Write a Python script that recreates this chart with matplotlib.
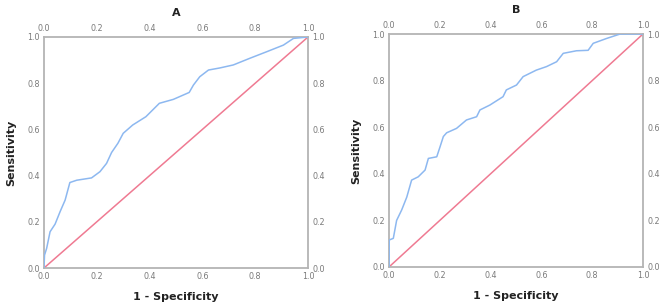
import matplotlib
matplotlib.use("Agg")
import matplotlib.pyplot as plt

# Panel A ROC curve (1 - specificity, sensitivity)
fpr_a = [0.0, 0.002, 0.01, 0.023, 0.042, 0.061, 0.08, 0.098, 0.124, 0.18, 0.212,
         0.237, 0.256, 0.28, 0.30, 0.336, 0.386, 0.437, 0.49, 0.528, 0.55, 0.566,
         0.59, 0.623, 0.666, 0.717, 0.78, 0.843, 0.907, 0.945, 1.0]
tpr_a = [0.0, 0.056, 0.085, 0.157, 0.19, 0.244, 0.294, 0.37, 0.38, 0.39, 0.417,
         0.453, 0.50, 0.54, 0.583, 0.619, 0.655, 0.713, 0.73, 0.749, 0.76, 0.792,
         0.828, 0.857, 0.866, 0.879, 0.908, 0.936, 0.965, 0.994, 1.0]

# Panel B ROC curve
fpr_b = [0.0, 0.001, 0.017, 0.030, 0.05, 0.07, 0.089, 0.115, 0.142, 0.155, 0.188,
         0.201, 0.214, 0.227, 0.266, 0.305, 0.345, 0.358, 0.397, 0.449, 0.462,
         0.502, 0.528, 0.58, 0.62, 0.66, 0.686, 0.738, 0.784, 0.804, 0.857, 0.91, 1.0]
tpr_b = [0.0, 0.116, 0.123, 0.20, 0.245, 0.30, 0.373, 0.387, 0.416, 0.466, 0.473,
         0.516, 0.56, 0.576, 0.595, 0.631, 0.645, 0.674, 0.695, 0.731, 0.76,
         0.781, 0.817, 0.845, 0.86, 0.881, 0.917, 0.928, 0.93, 0.96, 0.981, 1.0, 1.0]

titles = ["A", "B"]
ticks = [0.0, 0.2, 0.4, 0.6, 0.8, 1.0]
tick_labels = ["0.0", "0.2", "0.4", "0.6", "0.8", "1.0"]

curve_color = "#8db8f0"
ref_color = "#ef7a92"
spine_color = "#b4b4b4"
label_color = "#7a7a7a"

fig = plt.figure(figsize=(6.69, 3.05), dpi=100)
rects = [[44 / 669, 1 - 268 / 305, 264 / 669, 231 / 305],
         [389 / 669, 1 - 267 / 305, 254 / 669, 233 / 305]]
data = [(fpr_a, tpr_a), (fpr_b, tpr_b)]

for rect, (fx, ty), title in zip(rects, data, titles):
    ax = fig.add_axes(rect)
    ax.plot([0, 1], [0, 1], color=ref_color, lw=1.1, zorder=2)
    ax.plot(fx, ty, color=curve_color, lw=1.1, zorder=3)
    ax.set_xlim(0, 1)
    ax.set_ylim(0, 1)
    ax.set_xticks(ticks)
    ax.set_xticklabels(tick_labels)
    ax.set_yticks(ticks)
    ax.set_yticklabels(tick_labels)
    ax.tick_params(length=0, labelsize=5.8, labelcolor=label_color,
                   labeltop=True, labelright=True, pad=3)
    for s in ax.spines.values():
        s.set_color(spine_color)
        s.set_linewidth(1.3)
    ax.set_title(title, fontsize=8, fontweight="bold", color="#222222", pad=15)
    ax.set_xlabel("1 - Specificity", fontsize=8, fontweight="bold",
                  color="#222222", labelpad=8)
    ax.set_ylabel("Sensitivity", fontsize=8, fontweight="bold",
                  color="#222222", labelpad=8)

fig.savefig("out.png", dpi=100)
